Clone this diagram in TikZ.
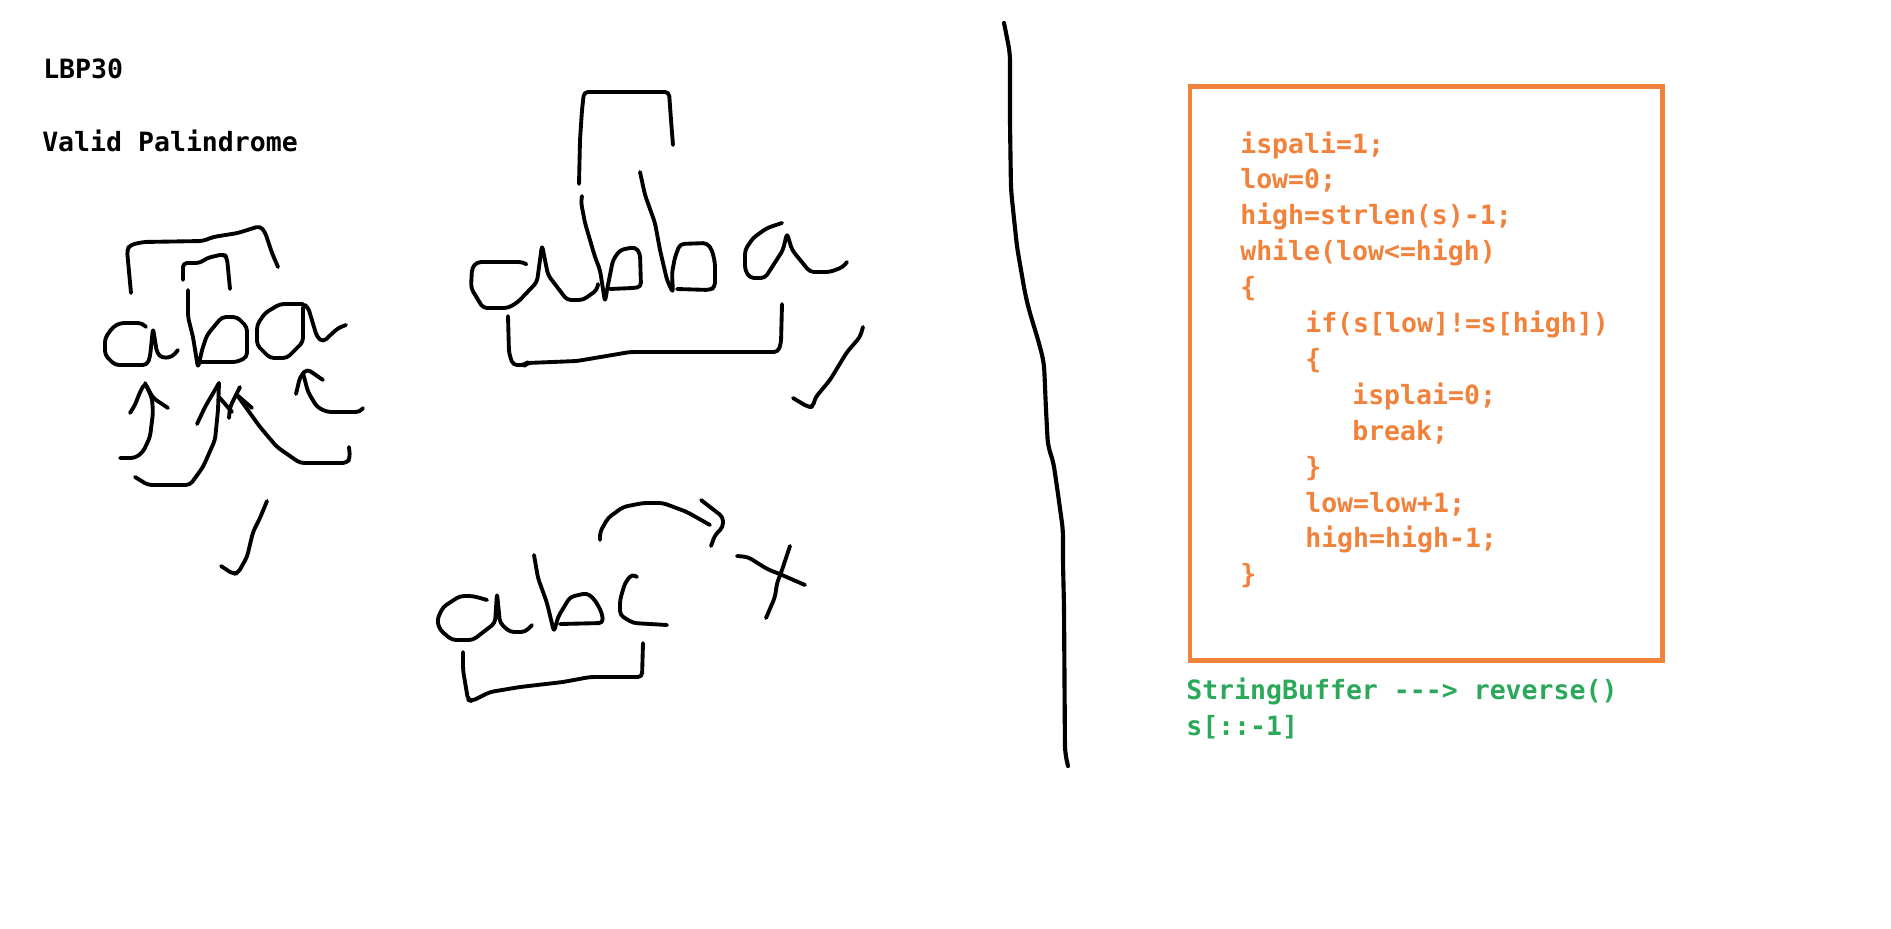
\documentclass[tikz,border=0pt]{standalone}
\usepackage{fontspec}
\usepackage{tikz}
\newfontfamily\codefont{DejaVu Sans Mono}
\definecolor{boxorange}{HTML}{F0823C}
\definecolor{notegreen}{HTML}{2BA85A}

\begin{document}
\begin{tikzpicture}[x=0.75pt,y=-0.75pt]
        \tikzstyle{sketch} = [draw,black,line width=2.9pt,line cap=round,line join=round,rounded corners=3pt]
        \tikzstyle{label} = [inner sep=0pt,anchor=base west,font=\codefont\bfseries\fontsize{19.9pt}{24pt}\selectfont]
        \useasboundingbox (0,0) rectangle (1891,928);
        \node(title)[label] at (43,78) {LBP30};
        \node(name)[label] at (42,151) {Valid Palindrome};
        \foreach \a/\xpos/\code in {0/1240/ispali=1;,1/1240/low=0;,2/1240/high=strlen(s)-1;,3/1240/while(low<=high),
          4/1240/\{,5/1305/if(s[low]!=s[high]),6/1305/\{,7/1352/isplai=0;,8/1352/break;,
          9/1305/\},10/1305/low=low+1;,11/1305/high=high-1;,12/1240/\}}{
          \node(line\a)[label,text=boxorange] at (\xpos,{153+35.9*\a}) {\code};
        }
        \node(buffer)[label,text=notegreen] at (1186,699) {StringBuffer ---> reverse()};
        \node(slice)[label,text=notegreen] at (1186,735) {s[::-1]};
        \draw[boxorange,line width=3.5pt] (1190,86.5) rectangle (1662.5,660.3);
        \path[sketch,line width=3.1pt,rounded corners=6pt] (1004,23) -- (1010,53) -- (1010,123) -- (1011,190) -- (1017,247) -- (1025,293) -- (1029,310) -- (1039,343) -- (1044,363) -- (1046,410) -- (1048,447) -- (1053,460) -- (1057,487) -- (1063,530) -- (1063,563) -- (1064,607) -- (1065,753) -- (1068,766);
        \path[sketch] (131,293) -- (127,250) -- (130,245) -- (143,242) -- (203,241) -- (213,237) -- (238,233) -- (260,226) -- (265,232) -- (272,253) -- (278,267);
        \path[sketch] (183,280) -- (183,263) -- (200,263) -- (207,258) -- (224,254) -- (227,258) -- (230,289);
        \path[sketch] (146,327) -- (142,323) -- (120,323) -- (113,327) -- (105,338) -- (105,355) -- (115,365) -- (147,365) -- (150,357) -- (153,328) -- (157,353) -- (162,358) -- (172,357) -- (178,350);
        \path[sketch] (188,290) -- (188,317) -- (193,337) -- (198,368) -- (202,350) -- (207,335) -- (222,317) -- (237,317) -- (247,327) -- (247,357) -- (237,362) -- (200,362);
        \path[sketch] (303,304) -- (280,304) -- (265,313) -- (257,325) -- (257,345) -- (270,358) -- (287,358) -- (303,342) -- (303,304) -- (308,307) -- (317,337) -- (323,342) -- (338,328) -- (346,325);
        \path[sketch] (120,458) -- (135,458) -- (143,452) -- (150,437) -- (153,413) -- (152,398) -- (145,383);
        \path[sketch] (130,413) -- (135,405) -- (140,392) -- (145,383) -- (153,398) -- (168,408);
        \path[sketch] (135,477) -- (148,485) -- (190,485) -- (203,467) -- (215,440) -- (218,410) -- (219,383);
        \path[sketch] (197,424) -- (205,407) -- (219,383);
        \path[sketch] (219,397) -- (232,412);
        \path[sketch] (349,447) -- (350,458) -- (347,463) -- (300,463) -- (277,447) -- (260,427) -- (237,395);
        \path[sketch] (240,387) -- (230,407) -- (229,418);
        \path[sketch] (237,395) -- (252,408);
        \path[sketch] (363,408) -- (360,412) -- (327,412) -- (317,407) -- (308,392) -- (303,373);
        \path[sketch] (296,394) -- (300,377) -- (307,369) -- (323,380);
        \path[sketch] (267,501) -- (260,518) -- (253,532) -- (247,557) -- (238,573) -- (233,574) -- (221,566);
        \path[sketch] (579,184) -- (580,140) -- (582,110) -- (584,92) -- (669,92) -- (671,120) -- (673,145);
        \path[sketch] (526,264) -- (523,262) -- (477,262) -- (472,268) -- (471,288) -- (483,308) -- (508,308) -- (518,302) -- (537,282) -- (542,245) -- (548,275) -- (567,300) -- (583,300) -- (597,290) -- (598,284);
        \path[sketch] (582,196) -- (581,202) -- (585,223) -- (595,257) -- (600,270) -- (605,302) -- (607,290) -- (613,260) -- (620,250) -- (635,247) -- (640,253) -- (641,287) -- (633,288) -- (610,289);
        \path[sketch] (640,172) -- (645,195) -- (655,223) -- (660,250) -- (667,280) -- (673,293) -- (672,273) -- (675,257) -- (680,244) -- (707,243) -- (712,250) -- (715,263) -- (715,287) -- (710,290) -- (677,289);
        \path[sketch] (782,223) -- (767,228) -- (753,238) -- (745,250) -- (745,270) -- (750,278) -- (765,278) -- (783,250) -- (787,233) -- (792,250) -- (810,272) -- (830,272) -- (843,267) -- (847,262);
        \path[sketch] (508,316) -- (509,353) -- (513,365) -- (525,365) -- (527,363) -- (577,361) -- (630,352) -- (778,352) -- (781,343) -- (782,304);
        \path[sketch] (863,327) -- (860,337) -- (847,352) -- (830,380) -- (815,398) -- (813,407) -- (808,407) -- (793,398);
        \path[sketch] (487,600) -- (473,596) -- (460,596) -- (443,607) -- (437,620) -- (440,630) -- (452,640) -- (473,640) -- (495,623) -- (497,593) -- (500,623) -- (510,632) -- (525,632) -- (532,625);
        \path[sketch] (534,555) -- (538,578) -- (547,603) -- (554,632) -- (558,617) -- (570,597) -- (587,593) -- (595,600) -- (602,613) -- (603,623) -- (560,624);
        \path[sketch] (637,577) -- (632,574) -- (625,583) -- (620,600) -- (620,615) -- (633,623) -- (667,625);
        \path[sketch] (463,652) -- (463,670) -- (468,700) -- (472,701) -- (490,692) -- (520,687) -- (563,682) -- (590,677) -- (642,677) -- (643,643);
        \path[sketch] (600,540) -- (600,532) -- (608,518) -- (623,507) -- (643,503) -- (663,503) -- (687,512) -- (710,525);
        \path[sketch] (701,500) -- (723,517) -- (723,527) -- (715,535) -- (711,546);
        \path[sketch] (737,556) -- (748,557) -- (767,569) -- (782,575) -- (805,585);
        \path[sketch] (790,546) -- (782,570) -- (777,583) -- (775,597) -- (766,618);
      \end{tikzpicture}
\end{document}
